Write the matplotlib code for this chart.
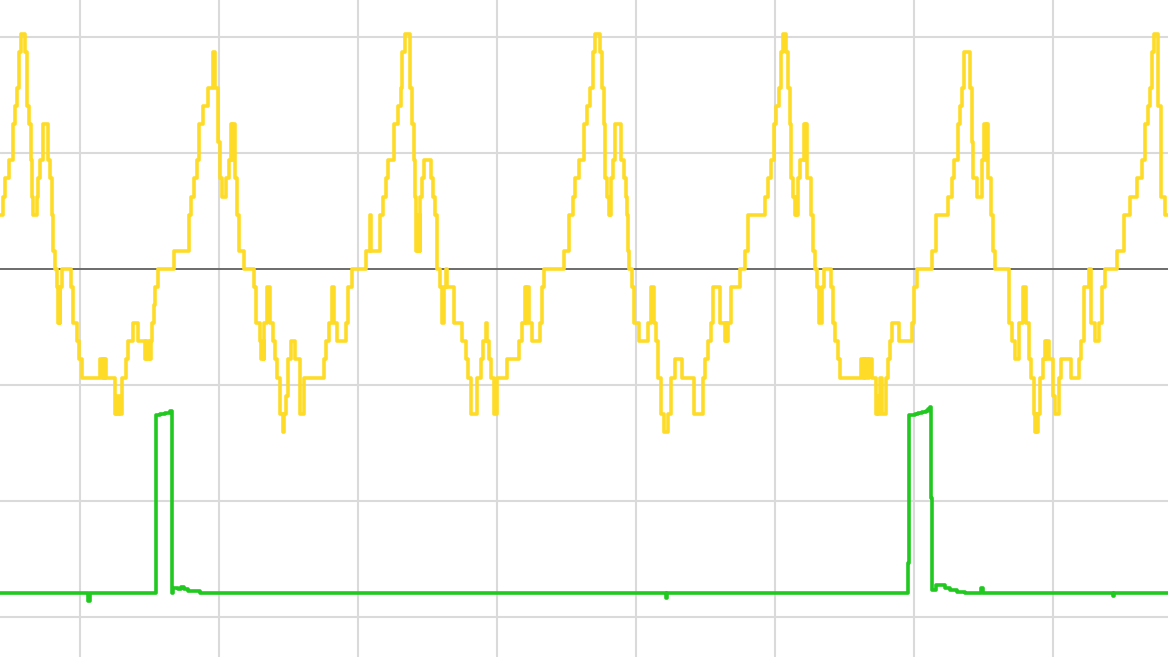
import matplotlib
matplotlib.use("Agg")
import matplotlib.pyplot as plt
import numpy as np

# ---- data -------------------------------------------------------------
# Time in samples (139 samples per division, first division at sample 80)
SAMPLES_PER_DIV = 139
T_FIRST_DIV = 80
T_END = 1168

# Yellow channel: step changes (sample, ADC code); 1 code = LSB volts
LSB = 18.1 / 116.0
yellow_t = [0, 3, 5, 9.3, 12.7, 15, 16.7, 19.3, 21, 25, 26.7, 29, 30.7, 31.7, 33.3, 36.7, 38.3, 40,
            42.7, 48.3, 50, 51.7, 53.3, 55, 57, 58, 59, 59.5, 60, 62.3, 70.7, 73.3, 76.7, 78.7, 81.7,
            100, 101.5, 102.5, 104, 105, 106, 115, 116, 117, 119, 120, 122, 126, 128.3, 132.7, 138.3,
            145, 146, 147, 149, 150, 150.7, 152, 153.5, 155, 158,
            173.7, 188.7, 191, 193.7, 197, 199.3, 202.7, 207.7, 212.7, 215.3, 217.7, 219.7, 222, 226.3,
            228.7, 231, 232, 233, 235, 237, 239.3, 243.7, 254.3, 256.3, 259.7, 261, 262.5, 263.5, 264.3,
            267, 270.3, 273, 275.3, 277, 280.3, 283, 284, 286, 287.7, 291, 295.3, 299.7, 304.3, 323.7,
            326, 328.7, 332,
            334, 336.7, 345.7, 348, 352.3, 365.7, 370, 371.3, 380, 383.3, 385.7, 388, 394, 398.3, 400.7,
            402.3, 404.7, 410, 412.3, 413.5, 414.5, 415.7, 416.5, 417.5, 418.5, 419.5, 420, 422.3, 424,
            430.7, 433, 435, 437.3, 440, 442, 443.5, 446, 447, 454, 462.3, 465.7, 468, 470.7, 477.3,
            480.7, 483.3, 485.7, 487.3, 489, 491.3, 494, 497.3,
            507, 519.3, 521.7, 525, 526, 527, 529.3, 531.7, 540.3, 541.7, 543.7, 563.7, 569.3, 572.7,
            575, 579.3, 584.3, 587, 590.3, 592.7, 595, 600.3, 602, 603.7, 605, 607.3, 608.5, 609.5,
            610.3, 611, 612.7, 615.3, 621, 623.7, 626, 627, 627.7, 629.3, 631.7, 634.3, 639.3, 647.7,
            651, 653.7, 656, 658.3, 661, 664.3,
            668, 670.7, 674.7, 682, 694, 703, 705.3, 708, 710.7, 713, 719.7, 724.7, 726, 727, 728, 731.3,
            739.7, 744.7, 748, 765.3, 768, 771.3, 774, 776.3, 779, 781.3, 783, 786.3, 788, 789.7, 791.3,
            793, 794.5, 796, 797, 798, 800.3, 804, 805, 806, 807.3, 810.7, 813, 815.3, 817.3, 819, 822,
            824, 830.7, 833,
            835, 837.7, 840, 861, 862.5, 863.5, 865, 866, 868, 869, 871.7, 875.7, 877, 878, 880, 882,
            885.7, 887.7, 890, 892.3, 899, 911.7, 914, 916.7, 931.7, 935.7, 947.7, 952.3, 954.3, 957.7,
            960, 962.3, 964.3, 970, 971.7, 973.3, 976.7, 981.7, 984.3, 985.5, 986.5, 988.3, 991, 993.3,
            995,
            1009.3, 1012, 1014.7, 1019.3, 1022.7, 1026, 1028.7, 1031.3, 1033.7, 1035, 1036, 1037, 1038,
            1040.3, 1042.7, 1044.7, 1046, 1047, 1048.7, 1052.7, 1054.7, 1059.3, 1061, 1071.3, 1078.7,
            1081, 1083.7, 1089.3, 1091, 1095.3, 1098.7, 1102, 1104.7, 1117, 1123.7, 1130.3, 1137, 1142,
            1145.3, 1148, 1149.7, 1152, 1153.7, 1158, 1161.3, 1165.3, 1168]
yellow_code = [3, 4, 5, 6, 8, 9, 10, 12, 13, 12, 9, 8, 6, 4, 3, 4, 5, 6,
               8, 6, 5, 3, 1, 0, -1, -3, -1, -3, -1, 0, -1, -3, -4, -5, -6,
               -5, -6, -5, -6, -5, -6, -8, -7, -8, -7, -8, -6, -5, -4, -3, -4,
               -5, -4, -5, -4, -5, -4, -3, -2, -1, 0,
               1, 3, 4, 5, 6, 8, 9, 10, 12, 10, 7, 5, 4, 5,
               6, 8, 6, 8, 5, 3, 1, 0, -1, -3, -4, -5, -4, -5, -3,
               -1, -3, -4, -5, -6, -8, -9, -8, -7, -5, -4, -5, -8, -6, -5,
               -4, -3, -1,
               -3, -4, -3, -1, 0, 1, 3, 1, 3, 4, 5, 6, 8, 9, 10,
               12, 13, 10, 8, 6, 4, 1, 3, 1, 3, 1, 4, 5, 6,
               5, 4, 3, 0, -1, -3, -1, 0, -1, -3, -4, -5, -6, -8, -6,
               -5, -4, -3, -4, -5, -6, -8, -6,
               -5, -4, -3, -1, -3, -1, -3, -4, -3, -1, 0, 1, 3, 4,
               5, 6, 8, 9, 10, 12, 13, 12, 10, 8, 5, 4, 3, 4,
               3, 5, 6, 8, 6, 5, 4, 3, 1, 0, -1, -3, -4, -3,
               -1, -3, -4, -6, -8, -9,
               -8, -6, -5, -6, -8, -6, -5, -4, -3, -1, -3, -4, -3, -4, -3, -1,
               0, 1, 3, 4, 5, 6, 8, 9, 10, 12, 13, 12, 10, 8, 5,
               4, 3, 4, 3, 5, 6, 8, 6, 8, 5, 3, 1, 0, -1, -3, -1,
               0, -1, -3,
               -4, -5, -6, -5, -6, -5, -6, -5, -6, -5, -6, -8, -7, -8, -6, -8,
               -6, -5, -4, -3, -4, -3, -1, 0, 1, 3, 4, 5, 6, 8,
               9, 10, 12, 10, 7, 5, 4, 6, 8, 6, 8, 5, 3, 1,
               0,
               -3, -4, -5, -3, -1, -3, -5, -6, -8, -9, -8, -9, -8,
               -6, -5, -4, -5, -4, -5, -7, -8, -6, -5, -6, -5,
               -4, -1, 0, -3, -4, -3, -1, 0, 1, 3, 4, 5, 6,
               8, 9, 10, 12, 13, 9, 4, 3, 3]

# Green channel: step changes (sample, volts)
green_t = [0, 87, 88, 89.5, 155, 155.5, 160, 165, 170, 172.3, 173, 178, 181, 184, 188, 200,
           665, 665.5, 667, 907.3, 907.6, 909.3, 915, 918, 922, 926, 928, 929.5, 930.5, 932,
           936, 945, 950, 957, 965, 981, 983, 1112, 1112.5, 1114, 1168]
green_v = [-2.793, -2.793, -2.862, -2.793, -2.793, -1.259, -1.250, -1.241, -1.224, -2.793,
           -2.750, -2.759, -2.741, -2.759, -2.776, -2.793,
           -2.793, -2.836, -2.793, -2.793, -2.534, -1.259, -1.250, -1.241, -1.233, -1.224,
           -1.207, -1.190, -1.974, -2.767,
           -2.724, -2.750, -2.767, -2.784, -2.793, -2.750, -2.793, -2.793, -2.819, -2.793, -2.793]

Y_TOP = 2.319
Y_BOTTOM = -3.345
v_grid = [-3, -2, -1, 1, 2]

# ---- plot -------------------------------------------------------------
fig = plt.figure(figsize=(11.68, 6.57), dpi=100)
ax = fig.add_axes([0, 0, 1, 1])
ax.set_xlim(0, T_END)
ax.set_ylim(Y_BOTTOM, Y_TOP)

xt = [T_FIRST_DIV + SAMPLES_PER_DIV * k for k in range(8)]
for x in xt:
    ax.axvline(x, color='#dadada', lw=1.5, zorder=1)
for v in v_grid:
    ax.axhline(v, color='#dadada', lw=1.5, zorder=1)
ax.axhline(0, color='#6b6b6b', lw=1.4, zorder=2)

ax.step(green_t, green_v, where='post', color='#20c820', lw=2.6, zorder=3)
yv = np.array(yellow_code) * LSB
ax.step(yellow_t, yv, where='post', color='#fddb27', lw=2.6, zorder=4)

ax.set_xticks([])
ax.set_yticks([])
for s in ax.spines.values():
    s.set_visible(False)

fig.savefig("out.png", dpi=100, facecolor='white')
